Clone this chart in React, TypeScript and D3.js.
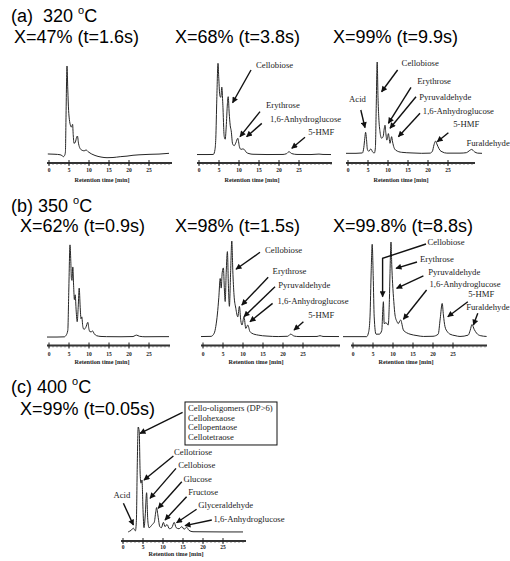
import React from 'react';
import * as d3 from 'd3';

type Pt = [number, number];
type Note = { text: string; label: Pt; from?: Pt; bend?: Pt; to?: Pt };

// chromatograms: [retention time (min), detector signal (tallest peak ~ 100)]
const trace320x47: Pt[] = [
  [-0.3, 1.1], [1.5, 0.8], [2.75, 0.3], [3.3, -0.8], [3.6, -1.8], [3.9, -0.5], [4.1, 3], [4.25, 40], [4.5, 95.7],
  [4.7, 70], [4.9, 48], [5.1, 38], [5.35, 32], [5.6, 30], [5.9, 33], [6.05, 22], [6.25, 12.5], [6.6, 14], [6.9, 19],
  [7.1, 20.4], [7.4, 12], [7.75, 7.2], [8.3, 5], [8.8, 4.5], [9.25, 5.4], [9.8, 3.5], [10.7, 1], [11.5, -0.5],
  [13, -2.2], [14.5, -2.9], [16, -2.7], [17.8, -1.8], [19.5, -1.2], [21, -0.3], [22.5, 0.2], [25, 0.7], [27.5, 1], [30, 1.8],
];
const trace320x68: Pt[] = [
  [-0.5, 0.5], [2, 0.5], [3.6, 0.6], [4.0, 6], [4.2, 18], [4.45, 60], [4.75, 98.6], [4.95, 82], [5.2, 64], [5.45, 62],
  [5.7, 73], [5.95, 55], [6.3, 20], [6.55, 17], [6.8, 30], [7.1, 55], [7.3, 62.7], [7.55, 45], [7.8, 32], [8.05, 26],
  [8.4, 12], [8.8, 10], [9.2, 13], [9.7, 18], [10.1, 9], [10.5, 6], [10.9, 6.5], [11.3, 6], [11.8, 3], [12.5, 1.5],
  [13.5, 0.8], [17, 0.5], [21, 0.6], [21.9, 1.5], [22.5, 3.5], [23.2, 1.5], [24.5, 0.6], [28, 0.5], [30, 1], [31, 0.6], [33, 0.5],
];
const trace320x99: Pt[] = [
  [-0.5, 1.8], [2, 1.8], [3.6, 2.2], [3.95, 8], [4.2, 18], [4.4, 24.4], [4.6, 18], [4.85, 6], [5.2, 4], [5.7, 6.5],
  [6.2, 3], [6.6, 2.2], [6.85, 8], [7.05, 50], [7.3, 100], [7.5, 62], [7.7, 40], [8.0, 25], [8.4, 18], [8.8, 20],
  [9.05, 28], [9.25, 32], [9.45, 24], [9.7, 16], [9.9, 19], [10.1, 23], [10.3, 18], [10.5, 12.6], [10.7, 16], [10.9, 19.7],
  [11.15, 14], [11.5, 8], [12, 5], [13.4, 2.9], [16, 2.2], [18.4, 1.8], [20.5, 2], [21.1, 4], [21.5, 11], [21.9, 15],
  [22.2, 12], [22.5, 9], [23, 5], [23.5, 3.5], [24.7, 2], [28, 2], [29.6, 2.5], [30.3, 4.5], [30.9, 6], [31.6, 3.5], [32.4, 2], [33.5, 1.8],
];
const trace350x62: Pt[] = [
  [-0.5, 1], [2, 1], [3.8, 1.2], [4.3, 3], [4.7, 8], [4.95, 50], [5.25, 97], [5.45, 80], [5.6, 62], [5.75, 60], [5.95, 74],
  [6.15, 55], [6.35, 40], [6.55, 45], [6.8, 28], [7.05, 17], [7.3, 32], [7.55, 52], [7.8, 32], [8.0, 20], [8.2, 22],
  [8.45, 12], [8.75, 9], [9.2, 11], [9.7, 16.3], [10.0, 9], [10.25, 6.5], [10.6, 6.5], [10.9, 7.3], [11.3, 4.5], [11.9, 2.4],
  [13, 1.6], [14.4, 1.4], [18, 1.3], [21, 1.5], [21.5, 2.5], [21.9, 3], [22.6, 1.8], [24, 1.3], [28, 1.4], [30, 1.4],
];
const trace350x98: Pt[] = [
  [-0.5, 1.5], [2, 1.7], [2.8, 5], [3.2, 12], [3.6, 25], [3.95, 42], [4.3, 62], [4.55, 52], [4.8, 68], [5.1, 73],
  [5.35, 50], [5.55, 38], [5.8, 68], [6.1, 90], [6.35, 55], [6.6, 33], [6.9, 68], [7.2, 101], [7.45, 70], [7.75, 45],
  [8.2, 31], [8.7, 22], [9.1, 33], [9.45, 18], [9.75, 13.5], [10.25, 22], [10.7, 10], [11.2, 13.5], [11.7, 7], [12.2, 5],
  [13.8, 3], [16, 2], [18.8, 1.5], [21.2, 1.8], [21.9, 4], [22.8, 2], [24, 1.5], [28.5, 1.6], [29.25, 2.4], [30, 1.6], [34, 1.5],
];
const trace350x998: Pt[] = [
  [-2.5, 1.4], [1, 1.4], [3.4, 1.4], [3.9, 6], [4.25, 22], [4.55, 70], [4.8, 97.6], [5.05, 65], [5.3, 22], [5.75, 4],
  [6.6, 4], [7.2, 8], [7.45, 30], [7.6, 37.8], [7.8, 15], [8.25, 16], [8.8, 13.5], [9.1, 40], [9.25, 67], [9.5, 100],
  [9.7, 75], [9.9, 57], [10.2, 38], [10.5, 24], [11.0, 17], [11.3, 15], [11.9, 18.8], [12.6, 8.3], [13.4, 5.5], [14.25, 4],
  [16, 2.5], [17.6, 1.6], [20, 1.8], [21.3, 4], [21.8, 20], [22.3, 36], [22.6, 24], [23, 11.8], [23.6, 6.5], [24.25, 4],
  [25.5, 2.5], [26.75, 1.6], [28.8, 3], [29.3, 8], [29.75, 14], [30.3, 9], [30.9, 5], [31.8, 2.5], [33.4, 1.6],
];
const trace400x99: Pt[] = [
  [1.3, 1], [2.0, 2.5], [2.6, 4.5], [3.1, 2], [3.35, 12], [3.55, 60], [3.8, 100], [4.05, 96], [4.3, 55], [4.5, 47],
  [4.75, 50], [5.0, 22], [5.25, 5], [5.55, 16], [5.9, 38], [6.2, 12], [6.5, 5], [6.9, 6], [7.3, 8], [7.8, 10], [8.2, 20],
  [8.4, 24], [8.75, 16], [9.2, 6], [9.6, 5], [10.1, 10], [10.5, 6], [11.0, 8], [11.6, 4], [12.2, 5], [12.8, 10], [13.3, 5],
  [14.0, 4], [14.7, 6], [15.3, 3.5], [15.9, 5.5], [16.5, 2.5], [17.5, 1.2], [25, 1], [30, 1],
];

const tickMinutes = [0, 5, 10, 15, 20, 25];
const temperatures = ['(a)  320 ', '(b) 350 ', '(c) 400 '];
const conversions = [
  'X=47% (t=1.6s)', 'X=68% (t=3.8s)', 'X=99% (t=9.9s)',
  'X=62% (t=0.9s)', 'X=98% (t=1.5s)', 'X=99.8% (t=8.8s)',
  'X=99% (t=0.05s)',
];
const oligomerBox = ['Cello-oligomers (DP>6)', 'Cellohexaose', 'Cellopentaose', 'Cellotetraose'];

// peak labels, in (time, signal) of each panel
const notes320x68: Note[] = [
  { text: 'Cellobiose', label: [14.25, 93.5], from: [13, 91.4], to: [8.4, 56.2] },
  { text: 'Erythrose', label: [16.75, 50.9], from: [15.25, 46.6], to: [10.25, 19.7] },
  { text: '1,6-Anhydroglucose', label: [17.75, 35.2], from: [15.7, 34], to: [11.9, 19.7] },
  { text: '5-HMF', label: [27.3, 21.5], from: [26.5, 19], to: [23.2, 7.2] },
];
const notes320x99: Note[] = [
  { text: 'Acid', label: [0.25, 57.3], from: [3.2, 48.4], to: [4.25, 29.4] },
  { text: 'Cellobiose', label: [13.4, 96], from: [12.4, 91.4], to: [8.4, 68] },
  { text: 'Erythrose', label: [17.3, 76.3], from: [15.75, 72.8], to: [10.1, 34.1] },
  { text: 'Pyruvaldehyde', label: [17.8, 59.1], from: [17, 62.7], to: [10.5, 28.7] },
  { text: '1,6-Anhydroglucose', label: [18.7, 43.8], from: [18, 44.8], to: [12.6, 19.7] },
  { text: '5-HMF', label: [26.3, 29.8], from: [25.1, 24], to: [22.3, 14.3] },
  { text: 'Furaldehyde', label: [29.6, 10] },
];
const notes350x98: Note[] = [
  { text: 'Cellobiose', label: [15.5, 88.2], from: [14.25, 89.3], to: [8.25, 71.6] },
  { text: 'Erythrose', label: [17.4, 66.7], from: [16.3, 63.2], to: [9.7, 34.4] },
  { text: 'Pyruvaldehyde', label: [18.8, 51.8], from: [18, 53.4], to: [10.25, 22.2] },
  { text: '1,6-Anhydroglucose', label: [18.6, 35.4], from: [17.4, 36.1], to: [11.75, 17] },
  { text: '5-HMF', label: [26.3, 20.5], from: [25.1, 17], to: [22.75, 8.3] },
];
const notes350x998: Note[] = [
  { text: 'Cellobiose', label: [18.6, 96.9], from: [18.25, 97.9], bend: [7.4, 83], to: [7.4, 43] },
  { text: 'Erythrose', label: [16.75, 79.5], from: [16, 79.2], to: [10.75, 72.6] },
  { text: 'Pyruvaldehyde', label: [18.8, 65.6], from: [17.6, 64.6], to: [10.9, 51.8] },
  { text: '1,6-Anhydroglucose', label: [19.1, 53.4], from: [18.4, 50], to: [12.6, 19.5] },
  { text: '5-HMF', label: [28.8, 42.4], from: [28.7, 37.8], to: [23.7, 22.2] },
  { text: 'Furaldehyde', label: [28.3, 29.2], from: [31.2, 25.7], to: [30.1, 13.5] },
];
const notes400x99: Note[] = [
  { text: '', label: [15.5, 123.6], from: [14.9, 113.9], to: [4.25, 94] },
  { text: 'Cellotriose', label: [12.75, 73.6], from: [12.6, 72.6], to: [5.25, 50] },
  { text: 'Cellobiose', label: [13.8, 61], from: [13.25, 61], to: [6.75, 32.7] },
  { text: 'Glucose', label: [15.1, 48.4], from: [14.7, 48.4], to: [8.8, 23.3] },
  { text: 'Fructose', label: [16.3, 35.8], from: [15.9, 34.2], to: [10.5, 12.3] },
  { text: 'Glyceraldehyde', label: [18.8, 23.3], from: [18.4, 22.4], to: [13.4, 9.7] },
  { text: '1,6-Anhydroglucose', label: [22.6, 10.7], from: [22.2, 12.3], to: [15.5, 6.9] },
  { text: 'Acid', label: [-2.4, 32.7], from: [0.1, 28], to: [2.6, 7.5] },
];

// page layout of the three rows
const rows = [
  { base: 155, top: 62, axisY: 163, tickY: 172, unitY: 181.5, headY: 22, convY: 43 },
  { base: 338, top: 242, axisY: 345.5, tickY: 355.5, unitY: 364, headY: 212, convY: 232 },
  { base: 533, top: 427, axisY: 541, tickY: 549, unitY: 556, headY: 393, convY: 415 },
];

const panels = [
  { row: 0, x0: 49, end: 30.75, trace: trace320x47, conv: 0, convX: 14, notes: [] as Note[] },
  { row: 0, x0: 199, end: 33.25, trace: trace320x68, conv: 1, convX: 175, notes: notes320x68 },
  { row: 0, x0: 348, end: 31.75, trace: trace320x99, conv: 2, convX: 333, notes: notes320x99 },
  { row: 1, x0: 49, end: 30.25, trace: trace350x62, conv: 3, convX: 20, notes: [] as Note[] },
  { row: 1, x0: 203, end: 34.25, trace: trace350x98, conv: 4, convX: 175, notes: notes350x98 },
  { row: 1, x0: 353, end: 33.5, trace: trace350x998, conv: 5, convX: 333, notes: notes350x998 },
  { row: 2, x0: 123, end: 30.75, trace: trace400x99, conv: 6, convX: 20, notes: notes400x99 },
];

const sans = '"Liberation Sans", Arial, sans-serif';
const serif = '"Liberation Serif", "Times New Roman", serif';
const ink = '#1c1c1c';

function Panel({ p }: { p: (typeof panels)[number] }) {
  const r = rows[p.row];
  const x = d3.scaleLinear().domain([0, 25]).range([p.x0, p.x0 + 100]);
  const y = d3.scaleLinear().domain([0, 100]).range([r.base, r.top]);
  const line = d3.line<Pt>().x(d => x(d[0])).y(d => y(d[1])).curve(d3.curveMonotoneX);
  const minor = d3.range(0, Math.floor(p.end) + 1);

  return (
    <g>
      <text x={p.convX} y={r.convY} fontFamily={sans} fontSize={18} fill="#000">{conversions[p.conv]}</text>
      <path d={line(p.trace) || ''} fill="none" stroke="#262626" strokeWidth={1} strokeLinejoin="round" />

      <line x1={x(-0.5)} x2={x(p.end)} y1={r.axisY} y2={r.axisY} stroke="#333" strokeWidth={2} />
      {minor.map(m => (
        <line key={'m' + m} x1={x(m)} x2={x(m)} y1={r.axisY} y2={r.axisY + 2} stroke="#444" strokeWidth={0.6} />
      ))}
      {tickMinutes.map(t => (
        <g key={t}>
          <line x1={x(t)} x2={x(t)} y1={r.axisY - 3} y2={r.axisY + 3} stroke="#222" strokeWidth={1} />
          <text x={x(t)} y={r.tickY} textAnchor="middle" fontFamily={serif} fontWeight="bold" fontSize={5.5} fill="#222">{t}</text>
        </g>
      ))}
      <text x={x(13.25)} y={r.unitY} textAnchor="middle" fontFamily={serif} fontWeight="bold" fontSize={6.2} fill="#222">
        Retention time [min]
      </text>

      {p.notes.map((n, i) => {
        const pts = [n.from, n.bend, n.to].filter(Boolean) as Pt[];
        const arrow = pts.length > 1 ? d3.line<Pt>().x(d => x(d[0])).y(d => y(d[1]))(pts) : null;
        return (
          <g key={i}>
            {arrow && <path d={arrow} fill="none" stroke="#111" strokeWidth={1.4} markerEnd="url(#head)" />}
            {n.text && (
              <text x={x(n.label[0])} y={y(n.label[1])} fontFamily={serif} fontSize={8.7} fill={ink}>{n.text}</text>
            )}
            {!n.text && (
              <g transform={`translate(${x(n.label[0])},${y(n.label[1])})`}>
                <rect x={0} y={0} width={92} height={43} fill="#fff" stroke="#111" strokeWidth={1} />
                {oligomerBox.map((s, k) => (
                  <text key={s} x={3} y={9 + k * 9.6} fontFamily={serif} fontSize={8.7} fill={ink}>{s}</text>
                ))}
              </g>
            )}
          </g>
        );
      })}
    </g>
  );
}

export default function App() {
  return (
    <svg width={510} height={561} style={{ position: 'absolute', left: 0, top: 0, display: 'block', background: '#fff' }}>
      <defs>
        <marker id="head" viewBox="0 0 10 10" refX={9} refY={5} markerWidth={8} markerHeight={6}
          markerUnits="userSpaceOnUse" orient="auto">
          <path d="M0,0 L10,5 L0,10 z" fill="#111" />
        </marker>
      </defs>
      {temperatures.map((s, i) => (
        <text key={s} x={11} y={rows[i].headY} fontFamily={sans} fontSize={18} fill="#000" style={{ whiteSpace: 'pre' }}>
          {s}
          <tspan fontSize={11} dy={-8}>o</tspan>
          <tspan dy={8}>C</tspan>
        </text>
      ))}
      {panels.map((p, i) => <Panel key={i} p={p} />)}
    </svg>
  );
}
